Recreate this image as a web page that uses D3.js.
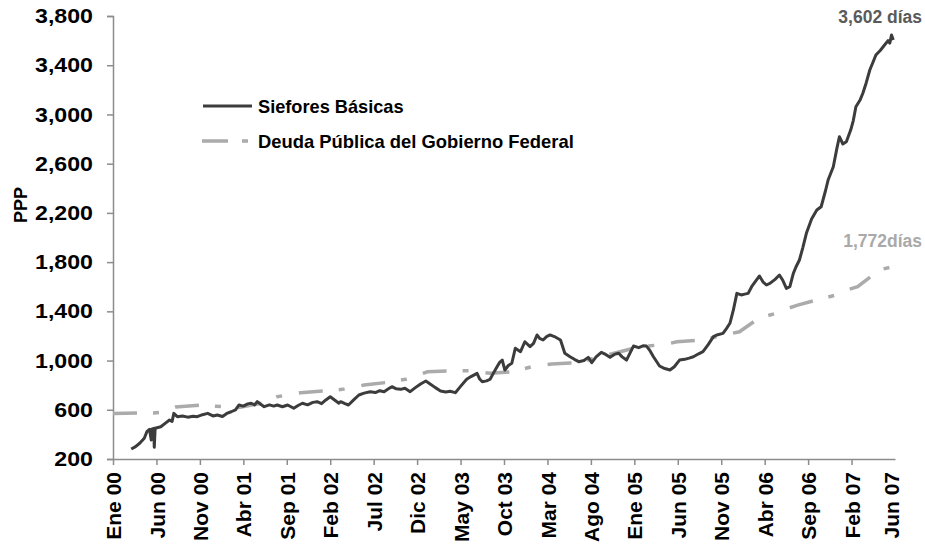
<!DOCTYPE html>
<html>
<head>
<meta charset="utf-8">
<script src="https://cdn.jsdelivr.net/npm/d3@7"></script>
<style>
  html, body { margin: 0; padding: 0; background: #fff; }
  svg text { font-family: "Liberation Sans", Arial, sans-serif; font-weight: bold; }
</style>
</head>
<body>
<svg id="chart" width="925" height="544"></svg>
<script>
// Month index counted from Ene 2000 (0 = 1 Jan 2000)
const xTickMonths = [0, 5, 10, 15, 20, 25, 30, 35, 40, 45, 50, 55, 60, 65, 70, 75, 80, 85, 89.5];
const xTickLabels = ["Ene 00","Jun 00","Nov 00","Abr 01","Sep 01","Feb 02","Jul 02","Dic 02","May 03","Oct 03","Mar 04","Ago 04","Ene 05","Jun 05","Nov 05","Abr 06","Sep 06","Feb 07","Jun 07"];
const yTicks = [200, 600, 1000, 1400, 1800, 2200, 2600, 3000, 3400, 3800];

const sieforesT = [2.1,2.6,3.1,3.6,3.9,4.2,4.4,4.45,4.5,4.7,4.75,4.85,5.5,6.0,6.5,6.8,7.0,7.4,8.0,8.6,9.2,9.7,10.3,10.9,11.5,12.0,12.6,13.1,13.6,14.1,14.5,15.0,15.5,15.9,16.3,16.6,17.0,17.4,18.0,18.5,18.9,19.5,20.1,20.8,21.3,21.8,22.4,23.0,23.5,24.0,24.5,25.0,25.5,26.0,26.2,26.7,27.1,27.7,28.3,28.9,29.6,30.2,30.7,31.2,31.7,32.1,32.6,33.1,33.6,34.2,34.8,35.4,36.0,36.5,37.1,37.7,38.3,38.8,39.4,40.0,40.7,41.2,41.9,42.2,42.5,43.0,43.4,43.8,44.2,44.5,44.8,45.1,45.5,45.9,46.3,46.9,47.4,48.0,48.4,48.8,49.1,49.5,49.9,50.3,50.8,51.5,52.0,52.6,53.1,53.6,54.2,54.7,55.1,55.6,56.2,56.7,57.2,57.7,58.2,58.6,59.1,59.5,59.9,60.5,61.0,61.4,61.8,62.2,62.9,63.5,64.1,64.6,65.2,65.8,66.3,66.8,67.4,67.9,68.5,69.1,69.6,70.2,70.6,71.0,71.4,71.8,72.3,72.7,73.1,73.5,74.0,74.4,74.8,75.2,75.6,76.2,76.7,77.1,77.5,77.9,78.3,78.6,79.0,79.4,79.8,80.4,81.0,81.5,82.0,82.3,82.9,83.3,83.6,84.0,84.4,84.9,85.2,85.5,86.0,86.3,86.7,87.1,87.5,87.8,88.3,88.8,89.2,89.4,89.6,89.8];
const sieforesV = [281,300,330,368,422,441,354,440,445,449,295,450,462,490,517,505,571,544,550,540,548,544,560,571,550,558,545,570,584,600,639,630,648,653,640,666,645,625,640,630,639,625,639,612,635,653,640,660,666,650,680,706,680,653,666,650,639,680,720,735,747,740,755,747,770,788,770,766,775,747,780,810,834,810,780,753,745,750,739,790,848,870,896,850,828,835,848,900,950,985,1004,923,960,978,1100,1072,1153,1113,1140,1208,1180,1167,1195,1208,1195,1167,1059,1031,1010,991,1000,1026,983,1030,1067,1050,1026,1050,1059,1030,1004,1060,1118,1105,1120,1118,1080,1031,956,935,923,950,1004,1010,1020,1031,1055,1072,1130,1194,1210,1221,1260,1303,1411,1546,1533,1540,1546,1600,1650,1687,1640,1614,1627,1660,1695,1650,1587,1600,1709,1760,1817,1920,2034,2150,2223,2250,2380,2467,2575,2720,2819,2760,2778,2873,2950,3063,3120,3172,3260,3361,3430,3483,3520,3564,3600,3580,3645,3605];

const deudaT = [0,2.9,4.7,5.5,7.2,9.9,14.5,17.2,18.9,21.6,24.5,26.4,28.9,31.6,33.7,36.2,38.8,41.1,43.4,45.9,48.2,50.5,52.6,53.4,55.3,57.8,60.6,62.4,63.2,64.9,67.8,69.5,70.4,72.1,74.3,76.3,76.9,78.8,83.2,83.8,85.7,88.2,89.7];
const deudaV = [570,575,574,578,622,636,618,655,706,739,755,766,801,823,848,909,917,917,896,909,950,972,980,978,1018,1061,1113,1124,1124,1153,1167,1194,1208,1234,1343,1384,1405,1451,1533,1560,1600,1736,1763];

const seriesNames = ["Siefores Básicas", "Deuda Pública del Gobierno Federal"];
const endLabels = ["3,602 días", "1,772días"];
const yAxisTitle = "PPP";

const svg = d3.select("#chart");
const x = d3.scaleLinear().domain([0, 90]).range([113, 895]);
const y = d3.scaleLinear().domain([200, 3800]).range([459, 16]);

const axisColor = "#8c8c8c";
const font = "'Liberation Sans', Arial, sans-serif";

// Y axis
const yAxis = svg.append("g").attr("transform", "translate(113,0)")
  .call(d3.axisLeft(y).tickValues(yTicks).tickFormat(d3.format(",")).tickSize(6).tickPadding(14));
yAxis.select(".domain").attr("stroke", axisColor).attr("stroke-width", 1.5);
yAxis.selectAll(".tick line").attr("stroke", axisColor).attr("stroke-width", 1.5);
yAxis.selectAll(".tick text").attr("font-size", 20.5).attr("fill", "#000")
  .style("font-family", font).style("font-weight", "bold")
  .each(function() {
    const w = this.getComputedTextLength();
    d3.select(this).attr("textLength", w * 1.13).attr("lengthAdjust", "spacingAndGlyphs");
  });

// X axis
const xAxis = svg.append("g").attr("transform", "translate(0,459)")
  .call(d3.axisBottom(x).tickValues(xTickMonths).tickFormat((d, i) => xTickLabels[i]).tickSize(6).tickSizeOuter(0));
xAxis.select(".domain").attr("stroke", axisColor).attr("stroke-width", 1.5);
xAxis.selectAll(".tick line").attr("stroke", axisColor).attr("stroke-width", 1.5)
  .attr("opacity", (d, i) => i === xTickMonths.length - 1 ? 0 : 1);
xAxis.selectAll(".tick text")
  .attr("font-size", 21).attr("fill", "#000")
  .style("font-family", font).style("font-weight", "bold")
  .attr("text-anchor", "end")
  .attr("transform", "rotate(-90)")
  .attr("x", -13).attr("y", 0).attr("dy", "0.36em");

// Y axis title
svg.append("text")
  .attr("transform", "translate(27,205) rotate(-90)")
  .attr("text-anchor", "middle")
  .attr("font-size", 18).attr("fill", "#000")
  .text(yAxisTitle);

const line = d3.line().x(d => x(d[0])).y(d => y(d[1]));

// Deuda line (gray, long-short dash)
const deudaData = deudaT.map((t, i) => [t, deudaV[i]]);
svg.append("path").datum(deudaData)
  .attr("d", line).attr("fill", "none")
  .attr("stroke", "#ababab").attr("stroke-width", 3.5)
  .attr("stroke-dasharray", "24,16,6,17");

// Siefores line (dark)
const sieforesData = sieforesT.map((t, i) => [t, sieforesV[i]]);
svg.append("path").datum(sieforesData)
  .attr("d", line).attr("fill", "none")
  .attr("stroke", "#3c3c3c").attr("stroke-width", 3)
  .attr("stroke-linejoin", "round");

// End labels
svg.append("text").attr("x", 922).attr("y", 23).attr("text-anchor", "end")
  .attr("font-size", 17.5).attr("fill", "#5a5a5a").text(endLabels[0]);
svg.append("text").attr("x", 922).attr("y", 247).attr("text-anchor", "end")
  .attr("font-size", 17.5).attr("fill", "#a9a9a9").text(endLabels[1]);

// Legend
const lg = svg.append("g");
lg.append("line").attr("x1", 203).attr("x2", 252).attr("y1", 106).attr("y2", 106)
  .attr("stroke", "#3c3c3c").attr("stroke-width", 3);
lg.append("text").attr("x", 258).attr("y", 113).attr("font-size", 18.2).attr("fill", "#000").text(seriesNames[0]);
lg.append("line").attr("x1", 202).attr("x2", 248).attr("y1", 141).attr("y2", 141)
  .attr("stroke", "#ababab").attr("stroke-width", 3.5).attr("stroke-dasharray", "26,14,6,100");
lg.append("text").attr("x", 258).attr("y", 148).attr("font-size", 18.4).attr("fill", "#000").text(seriesNames[1]);
</script>
</body>
</html>
